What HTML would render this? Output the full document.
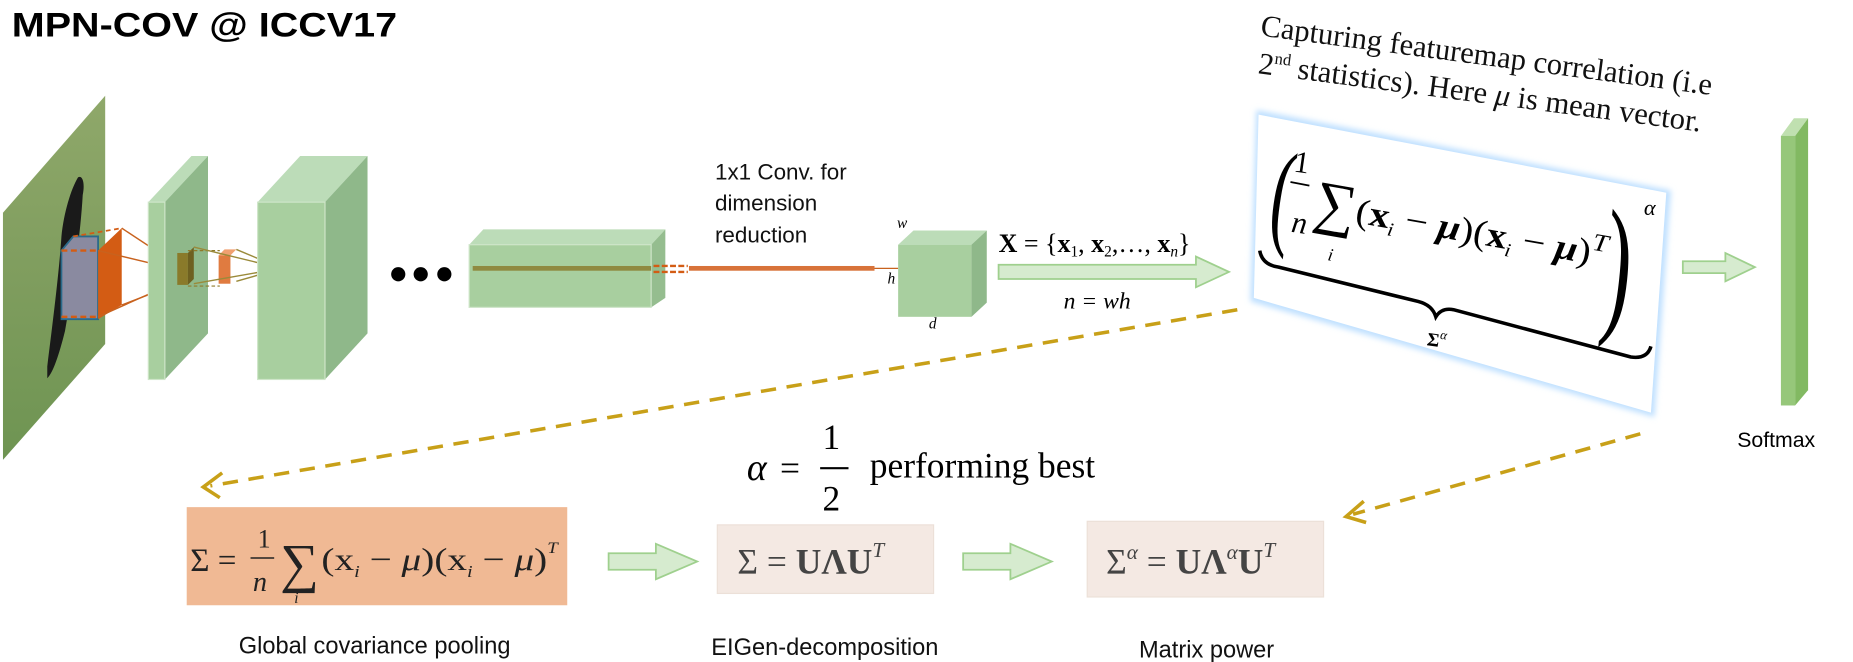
<!DOCTYPE html>
<html><head><meta charset="utf-8"><style>
html,body{margin:0;padding:0;background:#fff;}
svg{display:block}
.s{font-family:"Liberation Sans",sans-serif}
.m{font-family:"Liberation Serif",serif}
</style></head><body>
<svg width="1853" height="662" viewBox="0 0 1568 560" preserveAspectRatio="none" xmlns="http://www.w3.org/2000/svg">
<defs>
<linearGradient id="img" x1="0" y1="0" x2="0" y2="1">
<stop offset="0" stop-color="#8fa86a"/><stop offset="0.5" stop-color="#7f9d5e"/><stop offset="1" stop-color="#6e9452"/></linearGradient>
<filter id="glow"><feGaussianBlur stdDeviation="2.5"/></filter>
</defs>
<text x="10" y="31" class="s" font-size="29" font-weight="bold" fill="#000" textLength="326" lengthAdjust="spacingAndGlyphs">MPN-COV @ ICCV17</text>

<polygon points="2.5,180 89,81 89,291 2.5,389" fill="url(#img)"/>
<path d="M40,310 C45,270 50,230 52,200 C54,180 60,160 66,150 C70,148 72,155 70,165 C68,200 62,240 55,280 C50,300 45,315 40,320 Z" fill="#1a1a1a"/>
<polygon points="52,212 62,200 83,200 83,270 52,270" fill="#8a8aa0" stroke="#2a6a8a" stroke-width="1.5"/>
<polygon points="83,212 103,193 103,258 83,270" fill="#d35c14"/>
<line x1="52" y1="212" x2="83" y2="212" stroke="#d35c14" stroke-width="2" stroke-dasharray="5,3"/>
<line x1="62" y1="200" x2="103" y2="193" stroke="#d35c14" stroke-width="1.5" stroke-dasharray="4,3"/>
<line x1="52" y1="268" x2="83" y2="268" stroke="#d35c14" stroke-width="2" stroke-dasharray="5,3"/>
<g stroke="#c8621e" stroke-width="1.2">
<line x1="103" y1="193" x2="150" y2="224"/><line x1="103" y1="258" x2="150" y2="240"/>
<line x1="83" y1="212" x2="150" y2="228"/><line x1="83" y1="268" x2="150" y2="238"/>
</g>
<polygon points="125.5,171 139.5,171 176,132 162,132" fill="#bcdcb8"/>
<polygon points="139.5,171 176,132 176,282 139.5,321" fill="#8fb88a"/>
<rect x="125.5" y="171" width="14" height="150" fill="#a8cf9f" stroke="#cfe5c9" stroke-width="1"/>
<rect x="150" y="214" width="9" height="27" fill="#8a7a2a"/>
<polygon points="159,214 164,209 164,236 159,241" fill="#6e6020"/>
<g stroke="#8f7a2a" stroke-width="1" stroke-dasharray="3,2">
<line x1="159" y1="212" x2="186" y2="212"/><line x1="159" y1="242" x2="186" y2="242"/></g>
<rect x="185" y="216" width="10" height="24" fill="#e07b40"/>
<polygon points="185,216 190,211 200,211 195,216" fill="#f0a070"/>
<g stroke="#9a8a3a" stroke-width="1.2">
<line x1="200" y1="211" x2="238" y2="227"/><line x1="200" y1="238" x2="238" y2="227"/>
<line x1="164" y1="209" x2="238" y2="227"/><line x1="164" y1="240" x2="238" y2="227"/></g>
<polygon points="218,171 275,171 311,132 254,132" fill="#bcdcb8"/>
<polygon points="275,171 311,132 311,282 275,321" fill="#8fb88a"/>
<rect x="218" y="171" width="57" height="150" fill="#a8cf9f" stroke="#cfe5c9"/>
<circle cx="337" cy="232" r="6" fill="#000"/><circle cx="356" cy="232" r="6" fill="#000"/><circle cx="376" cy="232" r="6" fill="#000"/>
<polygon points="397,207 551,207 563,194 409,194" fill="#bcdcb8"/>
<polygon points="551,207 563,194 563,252 551,260" fill="#95bd8f"/>
<rect x="397" y="207" width="154" height="53" fill="#a8cf9f" stroke="#cfe5c9"/>
<rect x="400" y="225" width="151" height="4" fill="#8f8a40"/>
<g stroke="#d35c14" stroke-width="2" stroke-dasharray="5,2"><line x1="553" y1="225" x2="582" y2="225"/><line x1="553" y1="230" x2="582" y2="230"/></g>
<rect x="583" y="225" width="157" height="4" fill="#d8733a"/>
<line x1="740" y1="227" x2="760" y2="227" stroke="#c8621e" stroke-width="1"/>
<text class="s" font-size="19" fill="#111"><tspan x="605" y="152">1x1 Conv. for</tspan><tspan x="605" y="178">dimension</tspan><tspan x="605" y="205">reduction</tspan></text>
<polygon points="760,207 822,207 835,195 773,195" fill="#bcdcb8"/>
<polygon points="822,207 835,195 835,256 822,268" fill="#8fb88a"/>
<rect x="760" y="207" width="62" height="61" fill="#a8cf9f"/>
<text class="m" font-style="italic" font-size="13" x="759" y="193">w</text>
<text class="m" font-style="italic" font-size="13" x="751" y="240">h</text>
<text class="m" font-style="italic" font-size="13" x="786" y="278">d</text>
<text class="m" font-size="22" x="845" y="213"><tspan font-weight="bold">X</tspan> = {<tspan font-weight="bold">x</tspan><tspan font-size="13" dy="4">1</tspan><tspan dy="-4">, </tspan><tspan font-weight="bold">x</tspan><tspan font-size="13" dy="4">2</tspan><tspan dy="-4">,…, </tspan><tspan font-weight="bold">x</tspan><tspan font-size="13" dy="4" font-style="italic">n</tspan><tspan dy="-4">}</tspan></text>
<polygon points="845,224 1012,224 1012,217 1040,230 1012,243 1012,236 845,236" fill="#d6ebcf" stroke="#9fd08e" stroke-width="1.5"/>
<text class="m" font-style="italic" font-size="20" x="900" y="261">n = wh</text>
<polygon points="1063,93 1414,161 1400,353 1058,255" fill="#bfe0ff" filter="url(#glow)"/>
<polygon points="1065,97 1410,163 1397,349 1061,252" fill="#fff"/>
<g class="m" fill="#000">
<text transform="translate(1072,196) rotate(8) scale(0.55,1)" font-size="100">(</text>
<text transform="translate(1094,145) rotate(8)" font-size="26">1</text>
<line x1="1092" y1="154" x2="1108" y2="157" stroke="#000" stroke-width="1.5"/>
<text transform="translate(1092,196) rotate(8)" font-size="26" font-style="italic">n</text>
<text transform="translate(1110,186) rotate(10)" font-size="50">∑</text>
<text transform="translate(1123,220) rotate(10)" font-size="15" font-style="italic">i</text>
<text transform="translate(1146,188) rotate(10)" font-size="30" textLength="215" lengthAdjust="spacingAndGlyphs">(<tspan font-weight="bold">x</tspan><tspan font-size="16" font-style="italic" dy="6">i</tspan><tspan dy="-6"> − </tspan><tspan font-weight="bold" font-style="italic">μ</tspan>)(<tspan font-weight="bold">x</tspan><tspan font-size="16" font-style="italic" dy="6">i</tspan><tspan dy="-6"> − </tspan><tspan font-weight="bold" font-style="italic">μ</tspan>)<tspan font-size="21" font-style="italic" dy="-12">T</tspan></text>
<text transform="translate(1353,266) rotate(6) scale(0.55,1)" font-size="130">)</text>
<text transform="translate(1391,182)" font-size="19" font-style="italic">α</text>
<path d="M1066,212 Q1068,224 1082,226 L1200,255 Q1212,258 1215,268 Q1220,260 1230,262 L1380,302 Q1394,304 1397,293" fill="none" stroke="#000" stroke-width="3"/>
<text transform="translate(1207,292) rotate(8)" font-size="16" font-weight="bold">Σ<tspan font-size="11" dy="-7" font-style="italic" font-weight="normal">α</tspan></text>
</g>
<g class="m" font-size="26" fill="#111">
<text transform="translate(1066,30) rotate(7.5)" textLength="385" lengthAdjust="spacingAndGlyphs">Capturing featuremap correlation (i.e</text>
<text transform="translate(1064,62) rotate(7.5)">2<tspan font-size="14" dy="-10">nd</tspan><tspan dy="10"> statistics). Here </tspan><tspan font-style="italic">μ</tspan>  is mean vector.</text>
</g>
<polygon points="1424,221 1460,221 1460,214 1485,226 1460,238 1460,231 1424,231" fill="#d6ebcf" stroke="#9fd08e" stroke-width="1.5"/>
<polygon points="1507,115 1519,115 1530,100 1518,100" fill="#c0e0b0"/>
<polygon points="1519,115 1530,100 1530,330 1519,343" fill="#82b962"/>
<rect x="1507" y="115" width="12" height="228" fill="#96c77a"/>
<text class="s" font-size="18" x="1470" y="378">Softmax</text>
<g stroke="#c8a018" stroke-width="3" fill="none">
<line x1="1047" y1="262" x2="178" y2="411" stroke-dasharray="13,9"/>
<polyline points="188,400 172,412 186,421"/>
<line x1="1388" y1="367" x2="1145" y2="435" stroke-dasharray="13,9"/>
<polyline points="1154,424 1139,437 1156,442"/>
</g>
<g class="m" fill="#000">
<text x="632" y="406" font-size="32" font-style="italic">α</text>
<text x="660" y="406" font-size="30">=</text>
<text x="696" y="380" font-size="30">1</text>
<line x1="694" y1="396" x2="718" y2="396" stroke="#000" stroke-width="1.8"/>
<text x="696" y="432" font-size="30">2</text>
<text x="736" y="404" font-size="30">performing best</text>
</g>
<rect x="158" y="429" width="322" height="83" fill="#f0b994"/>
<g class="m" fill="#222">
<text x="161" y="483" font-size="28">Σ =</text>
<text x="218" y="463" font-size="22">1</text>
<line x1="212" y1="472" x2="232" y2="472" stroke="#222" stroke-width="1.3"/>
<text x="214" y="500" font-size="24" font-style="italic">n</text>
<text x="237" y="492" font-size="46">∑</text>
<text x="249" y="510" font-size="13" font-style="italic">i</text>
<text x="272" y="482" font-size="27" textLength="200" lengthAdjust="spacingAndGlyphs">(x<tspan font-size="14" font-style="italic" dy="6">i</tspan><tspan dy="-6"> − </tspan><tspan font-style="italic">μ</tspan>)(x<tspan font-size="14" font-style="italic" dy="6">i</tspan><tspan dy="-6"> − </tspan><tspan font-style="italic">μ</tspan>)<tspan font-size="13" font-style="italic" dy="-14">T</tspan></text>
</g>
<polygon points="515,468 555,468 555,460 590,475 555,490 555,482 515,482" fill="#d6ebcf" stroke="#9fd08e" stroke-width="1.5"/>
<rect x="607" y="444" width="183" height="58" fill="#f4e9e3" stroke="#ece0d8"/>
<text class="m" x="624" y="485" font-size="30" fill="#444">Σ = <tspan font-weight="bold">UΛU</tspan><tspan font-size="18" font-style="italic" dy="-14">T</tspan></text>
<polygon points="815,468 855,468 855,460 890,475 855,490 855,482 815,482" fill="#d6ebcf" stroke="#9fd08e" stroke-width="1.5"/>
<rect x="920" y="441" width="200" height="64" fill="#f4e9e3" stroke="#ece0d8"/>
<text class="m" x="936" y="485" font-size="30" fill="#444">Σ<tspan font-size="18" font-style="italic" dy="-12">α</tspan><tspan dy="12"> = </tspan><tspan font-weight="bold">UΛ</tspan><tspan font-size="18" font-style="italic" dy="-12">α</tspan><tspan font-weight="bold" dy="12">U</tspan><tspan font-size="18" font-style="italic" dy="-14">T</tspan></text>
<g class="s" font-size="20" fill="#111" text-anchor="middle">
<text x="317" y="553">Global covariance pooling</text>
<text x="698" y="554">EIGen-decomposition</text>
<text x="1021" y="556">Matrix power</text>
</g>
</svg>
</body></html>
